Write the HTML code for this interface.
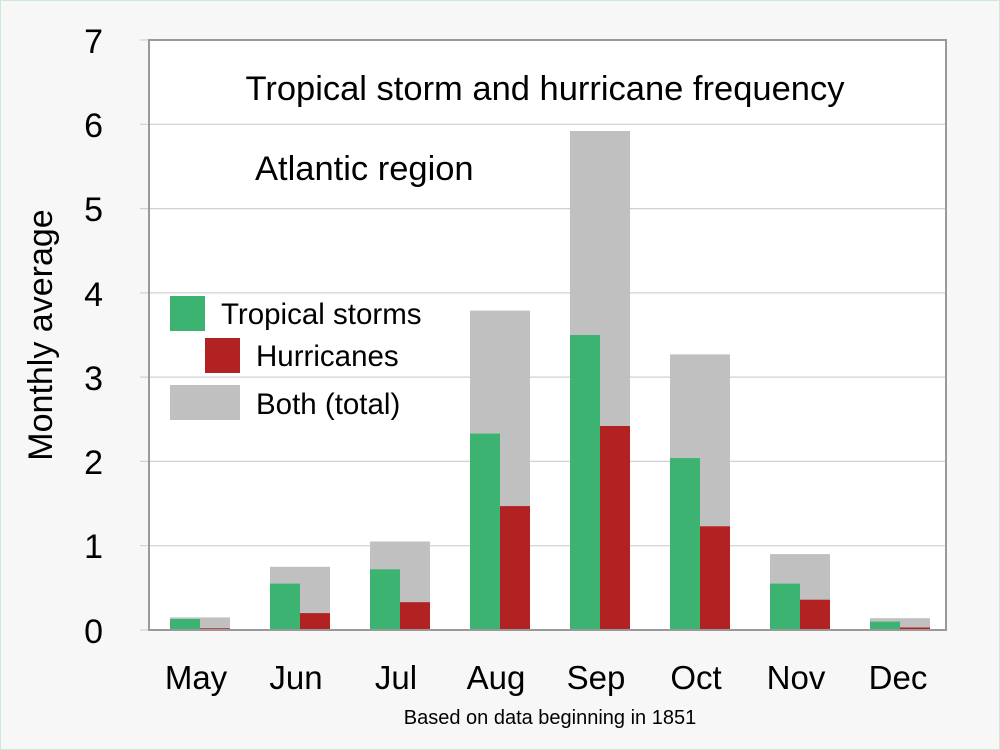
<!DOCTYPE html>
<html><head><meta charset="utf-8"><style>
html,body{margin:0;padding:0;}
body{width:1000px;height:750px;overflow:hidden;background:#f7f7f7;}
svg{display:block;font-family:"Liberation Sans",sans-serif;}
</style></head><body>
<svg width="1000" height="750" viewBox="0 0 1000 750">
<rect x="0.5" y="0.5" width="999" height="749" fill="#f7f7f7" stroke="#cfe8d6"/>
<rect x="149" y="40" width="797" height="590" fill="#fff"/>
<g stroke="#d0d0d0" stroke-width="1.2">
<line x1="140" y1="124.3" x2="946" y2="124.3"/>
<line x1="140" y1="208.6" x2="946" y2="208.6"/>
<line x1="140" y1="292.9" x2="946" y2="292.9"/>
<line x1="140" y1="377.1" x2="946" y2="377.1"/>
<line x1="140" y1="461.4" x2="946" y2="461.4"/>
<line x1="140" y1="545.7" x2="946" y2="545.7"/>
<line x1="140" y1="40" x2="148" y2="40"/>
<line x1="140" y1="630" x2="148" y2="630"/>
</g>
<g fill="#c0c0c0">
<rect x="170" y="617.4" width="60" height="12.6"/>
<rect x="270" y="566.8" width="60" height="63.2"/>
<rect x="370" y="541.5" width="60" height="88.5"/>
<rect x="470" y="310.6" width="60" height="319.4"/>
<rect x="570" y="131" width="60" height="499"/>
<rect x="670" y="354.4" width="60" height="275.6"/>
<rect x="770" y="554.1" width="60" height="75.9"/>
<rect x="870" y="618.2" width="60" height="11.8"/>
</g>
<g fill="#3cb371">
<rect x="170" y="619" width="30" height="11"/>
<rect x="270" y="583.6" width="30" height="46.4"/>
<rect x="370" y="569.3" width="30" height="60.7"/>
<rect x="470" y="433.6" width="30" height="196.4"/>
<rect x="570" y="335" width="30" height="295"/>
<rect x="670" y="458.1" width="30" height="171.9"/>
<rect x="770" y="583.6" width="30" height="46.4"/>
<rect x="870" y="621.6" width="30" height="8.4"/>
</g>
<g fill="#b22222">
<rect x="200" y="628.3" width="30" height="1.7"/>
<rect x="300" y="613.1" width="30" height="16.9"/>
<rect x="400" y="602.2" width="30" height="27.8"/>
<rect x="500" y="506.1" width="30" height="123.9"/>
<rect x="600" y="426" width="30" height="204"/>
<rect x="700" y="526.3" width="30" height="103.7"/>
<rect x="800" y="599.7" width="30" height="30.3"/>
<rect x="900" y="627.5" width="30" height="2.5"/>
</g>
<rect x="149" y="40" width="797" height="590" fill="none" stroke="#999" stroke-width="2"/>
<g font-size="34" fill="#000" text-anchor="end">
<text x="103" y="53">7</text><text x="103" y="137">6</text><text x="103" y="221">5</text>
<text x="103" y="306">4</text><text x="103" y="390">3</text><text x="103" y="474">2</text>
<text x="103" y="558">1</text><text x="103" y="643">0</text>
</g>
<text transform="translate(52,335) rotate(-90)" font-size="34" text-anchor="middle">Monthly average</text>
<g font-size="33" text-anchor="middle">
<text x="196" y="689">May</text><text x="296" y="689">Jun</text><text x="396" y="689">Jul</text>
<text x="496" y="689">Aug</text><text x="596" y="689">Sep</text><text x="696" y="689">Oct</text>
<text x="796" y="689">Nov</text><text x="898" y="689">Dec</text>
</g>
<text x="550" y="724" font-size="20" text-anchor="middle">Based on data beginning in 1851</text>
<text x="545" y="100" font-size="34.5" text-anchor="middle">Tropical storm and hurricane frequency</text>
<text x="255" y="180" font-size="34.5">Atlantic region</text>
<rect x="170" y="296" width="35" height="35" fill="#3cb371"/>
<rect x="205" y="338" width="35" height="35" fill="#b22222"/>
<rect x="170" y="385" width="70" height="35" fill="#c0c0c0"/>
<g font-size="29.5">
<text x="221" y="324">Tropical storms</text>
<text x="256" y="366">Hurricanes</text>
<text x="256" y="414">Both (total)</text>
</g>
</svg>
</body></html>
